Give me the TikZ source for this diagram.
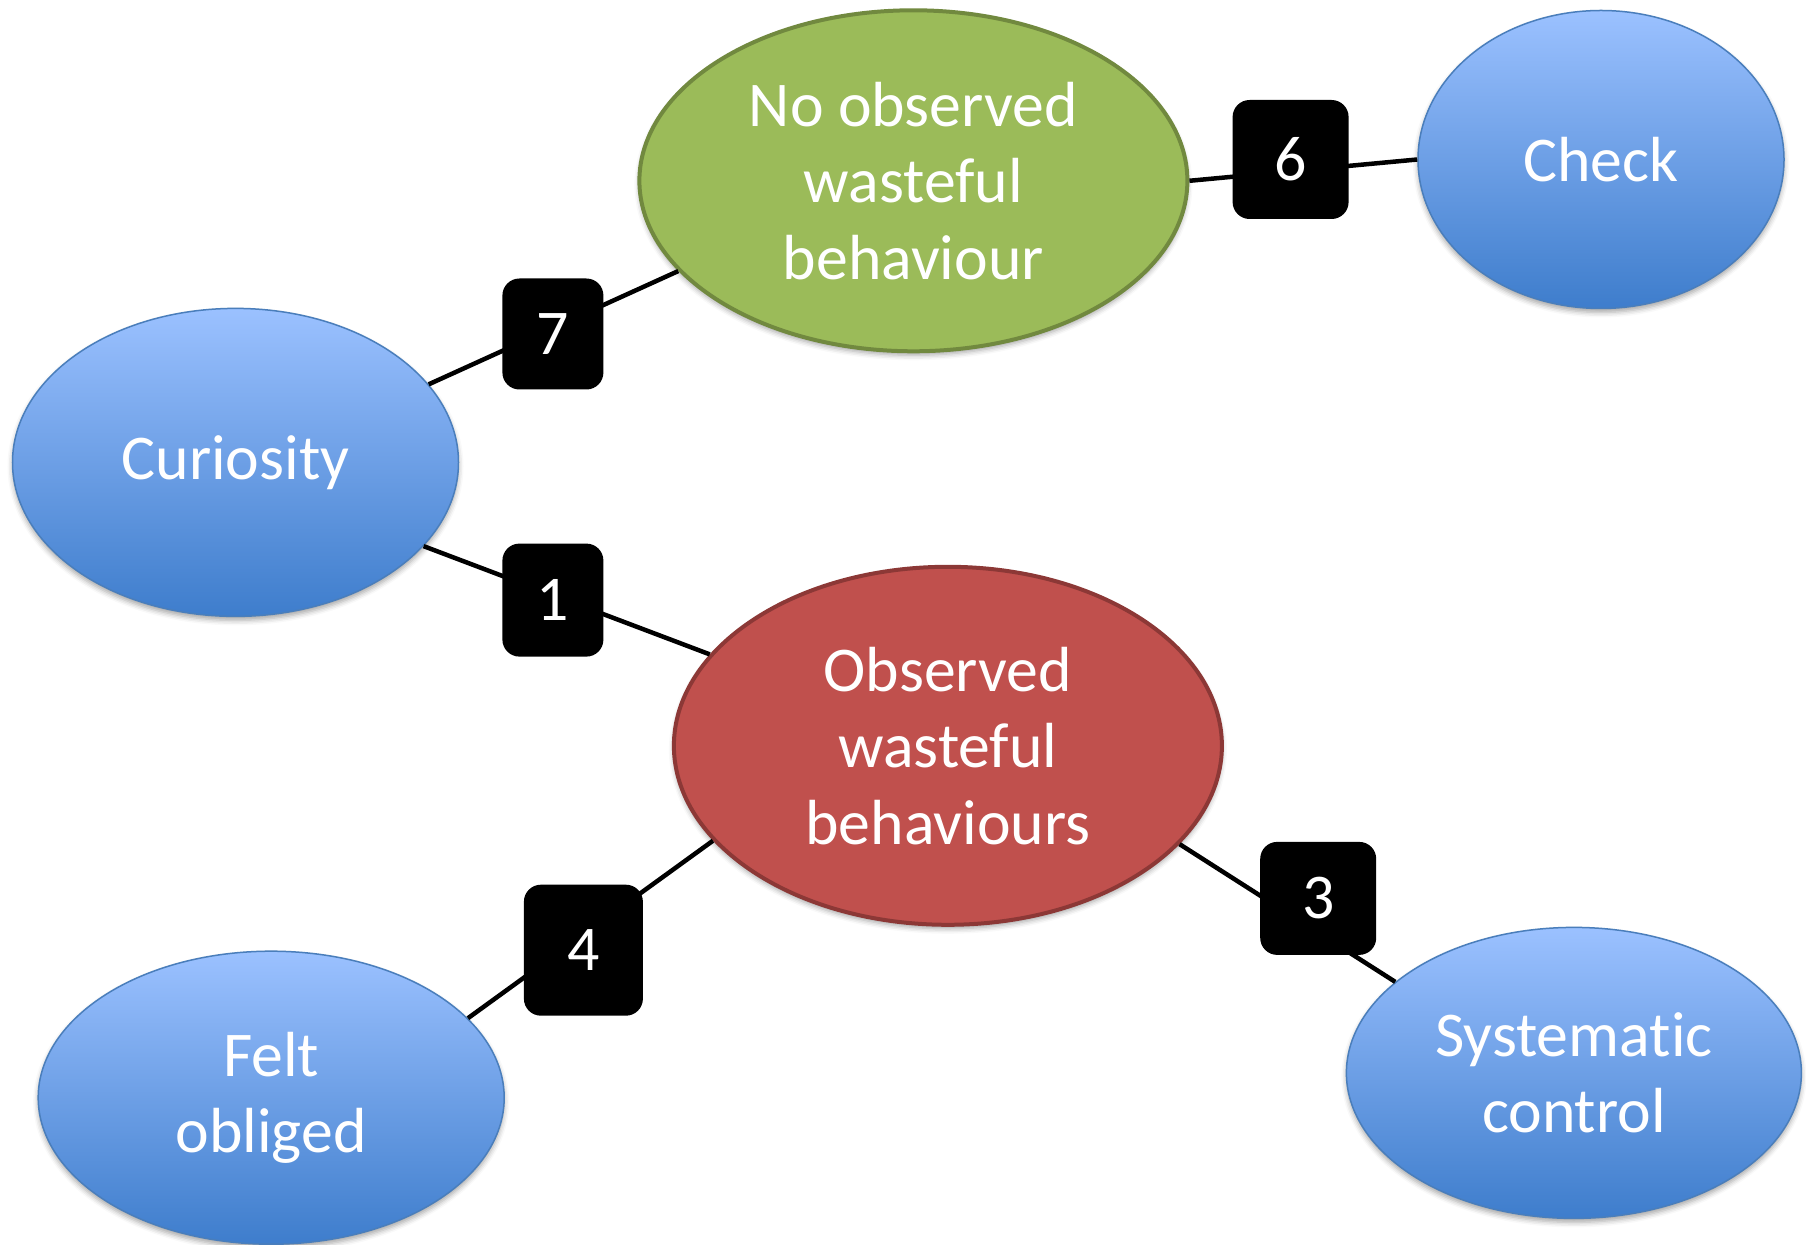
\documentclass[tikz,border=0pt]{standalone}
\usepackage{fontspec}
\setmainfont{Carlito}[Ligatures={NoCommon}]
\usetikzlibrary{shapes.geometric,shadows.blur}
\definecolor{bluetop}{RGB}{155,193,255}
\definecolor{bluebot}{RGB}{62,125,204}
\definecolor{blueedge}{RGB}{74,126,187}
\definecolor{greenfill}{RGB}{155,187,89}
\definecolor{greenedge}{RGB}{113,137,63}
\definecolor{redfill}{RGB}{192,80,77}
\definecolor{rededge}{RGB}{140,56,54}
\begin{document}
\begin{tikzpicture}[x=1bp,y=1bp,
  bubble/.style={ellipse, inner sep=0pt, text=white, align=center,
    font=\fontsize{64}{76.6}\selectfont,
    blur shadow={shadow xshift=0bp, shadow yshift=-4bp, shadow blur radius=5bp, shadow opacity=35}},
  bluebubble/.style={bubble, draw=blueedge, line width=1.5bp, top color=bluetop, bottom color=bluebot},
  greenbubble/.style={bubble, draw=greenedge, line width=4bp, fill=greenfill},
  redbubble/.style={bubble, draw=rededge, line width=4bp, fill=redfill},
  badge/.style={fill=black, rounded corners=17bp, inner sep=0pt, text=white,
    font=\fontsize{64}{70}\selectfont},
  link/.style={line width=4.5bp, black}]
\useasboundingbox (0,0) rectangle (1806,1244);

% ellipses
\node[greenbubble, minimum width=548bp, minimum height=341bp] (green) at (913.4,1063.2)
  {No observed\\wasteful\\behaviour};
\node[bluebubble, minimum width=366bp, minimum height=298bp] (check) at (1601.0,1084.5) {Check};
\node[bluebubble, minimum width=446bp, minimum height=308bp] (cur) at (235.5,781.6) {Curiosity};
\node[redbubble, minimum width=548bp, minimum height=358bp] (red) at (947.9,498.2)
  {Observed\\wasteful\\behaviours};
\node[bluebubble, minimum width=466bp, minimum height=293bp] (felt) at (271.2,146.3)
  {Felt\\obliged};
\node[bluebubble, minimum width=455bp, minimum height=291bp] (sys) at (1573.9,171.1)
  {Systematic\\control};

% connectors
\draw[link] (cur.22) -- (green.201);
\draw[link] (cur.336) -- (red.159);
\draw[link] (green.0) -- (check.180);
\draw[link] (red.337) -- (sys.153);
\draw[link] (red.202) -- (felt.22);

% numbered labels
\node[badge, minimum width=101bp, minimum height=111bp] (b7) at (552.9,910.0) {7};
\node[badge, minimum width=101bp, minimum height=113bp] (b1) at (552.9,643.9) {1};
\node[badge, minimum width=116bp, minimum height=119bp] (b6) at (1290.6,1084.5) {6};
\node[badge, minimum width=116bp, minimum height=113bp] (b3) at (1318.2,345.6) {3};
\node[badge, minimum width=119bp, minimum height=131bp] (b4) at (583.4,293.8) {4};
\end{tikzpicture}
\end{document}
